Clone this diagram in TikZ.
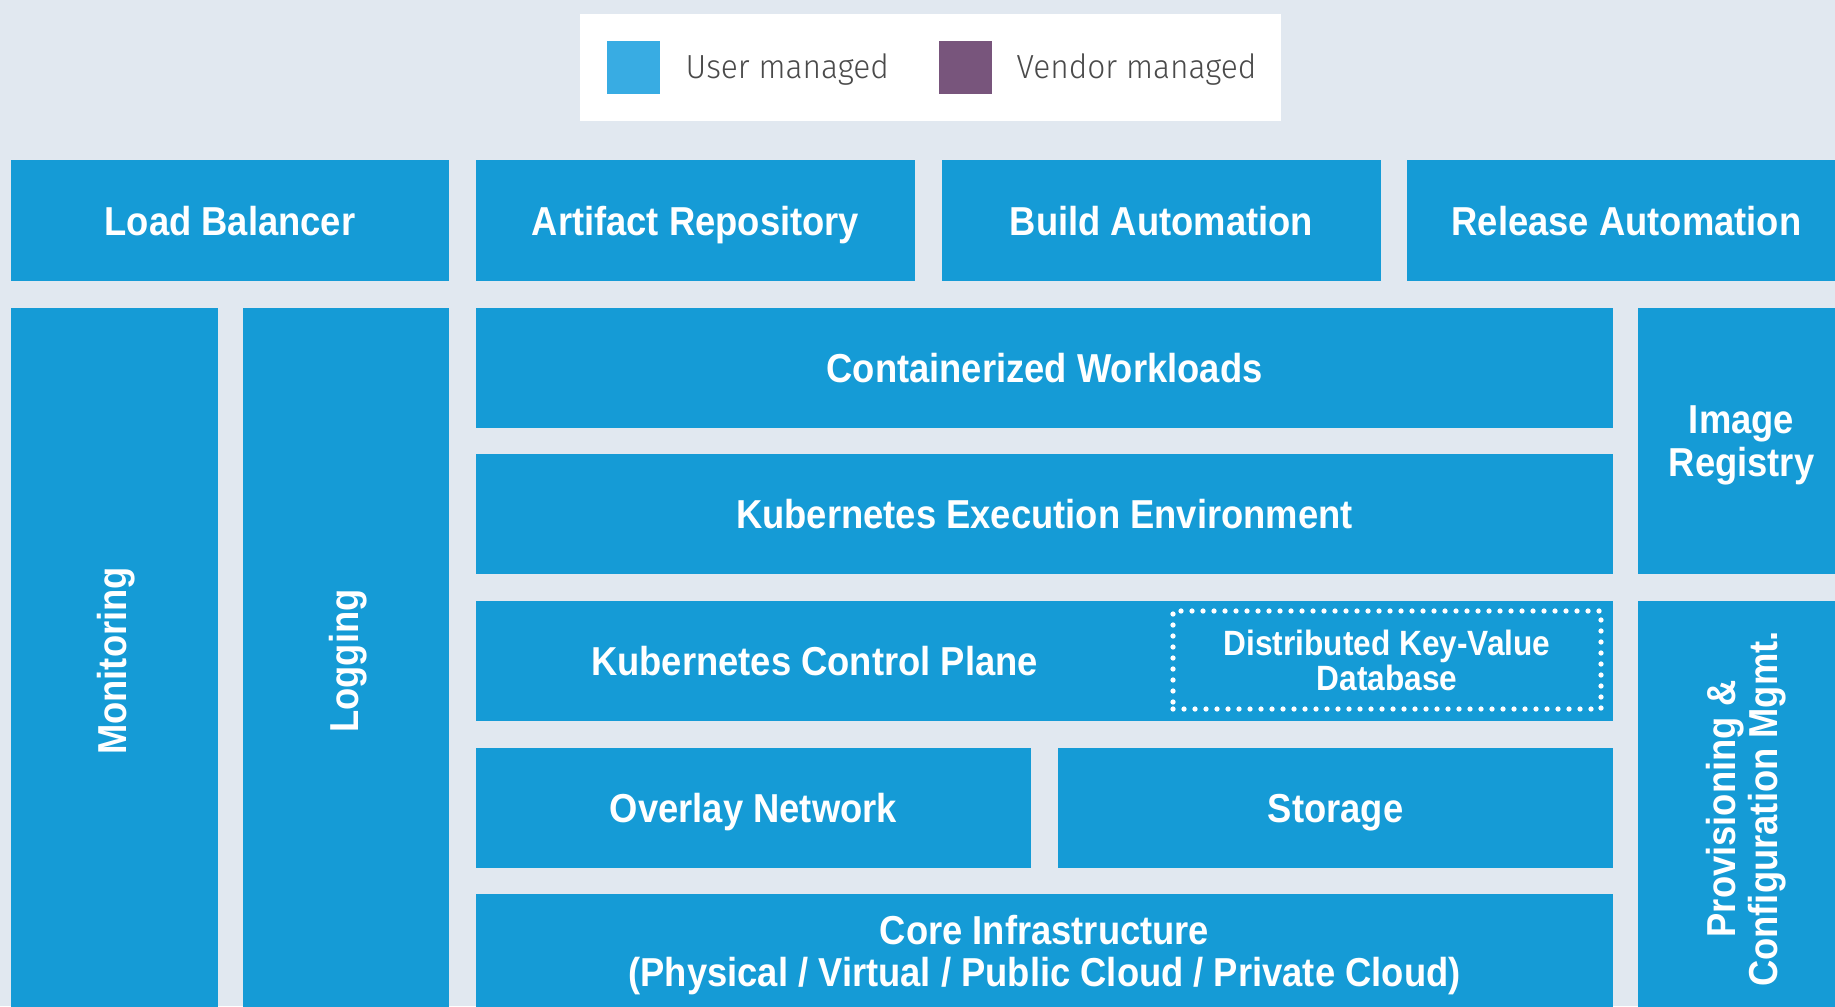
\documentclass[tikz,border=0pt]{standalone}
\usepackage{fontspec}
\usepackage{tikz}
\usetikzlibrary{calc}
\newfontfamily\blockfont{Liberation Sans}[FakeStretch=0.9]
\newfontfamily\legendfont{Fira Sans}[UprightFont=* Light, FakeStretch=0.95]
\definecolor{bggrey}{HTML}{E1E8F0}
\definecolor{kubeblue}{HTML}{159BD6}
\definecolor{userblue}{HTML}{38ACE3}
\definecolor{vendorpurple}{HTML}{78557C}
\definecolor{legendgrey}{HTML}{4A4A4A}

\begin{document}
\begin{tikzpicture}[x=0.1mm, y=-0.1mm,
    block/.style={fill=kubeblue, text=white, inner sep=0pt, align=center, text depth=0pt,
        font=\blockfont\bfseries\fontsize{11.5}{12}\selectfont},
    swatch/.style={minimum width=5.3mm, minimum height=5.3mm, inner sep=0pt},
    legendtxt/.style={text=legendgrey, inner sep=0pt, anchor=base west,
        font=\legendfont\fontsize{9.5}{11}\selectfont}]
    \useasboundingbox[fill=bggrey] (0,0) rectangle (1835,1006);
    % legend
    \node[fill=white, minimum width=70.1mm, minimum height=10.7mm, inner sep=0pt] (legend) at (930.5,67.5) {};
    \node[swatch, fill=userblue] (usersq) at (633,67.5) {};
    \node[legendtxt] (usertxt) at (685,78) {User managed};
    \node[swatch, fill=vendorpurple] (vendorsq) at (965,67.5) {};
    \node[legendtxt] (vendortxt) at (1016,78) {Vendor managed};
    % top row
    \node[block, minimum width=43.8mm, minimum height=12.1mm] (lb) at (230,220.5) {Load Balancer};
    \node[block, minimum width=43.9mm, minimum height=12.1mm] (artifact) at (695.5,220.5) {Artifact Repository};
    \node[block, minimum width=43.9mm, minimum height=12.1mm] (build) at (1161.5,220.5) {Build Automation};
    \node[block, minimum width=43.9mm, minimum height=12.1mm] (release) at (1626.5,220.5) {Release Automation};
    % side columns
    \node[block, rotate=90, text depth=0.5mm, minimum width=70.6mm, minimum height=20.7mm] (monitoring) at (114.5,661) {Monitoring};
    \node[block, rotate=90, text depth=0.5mm, minimum width=70.6mm, minimum height=20.6mm] (logging) at (346,661) {Logging};
    \node[block, minimum width=20.7mm, minimum height=26.6mm] (registry) at (1741.5,441) {Image\\Registry};
    \node[block, rotate=90, minimum width=41.6mm, minimum height=20.7mm] (provisioning) at (1741.5,809) {Provisioning \&\\Configuration Mgmt.};
    % stack
    \node[block, minimum width=113.7mm, minimum height=12mm] (workloads) at (1044.5,368) {Containerized Workloads};
    \node[block, minimum width=113.7mm, minimum height=12mm] (execenv) at (1044.5,514) {Kubernetes Execution Environment};
    \node[block, minimum width=113.7mm, minimum height=12mm] (ctrlplane) at (1044.5,661) {};
    \node[block, fill=none] (ctrllabel) at ($(ctrlplane.west)!0.298!(ctrlplane.east)$) {Kubernetes Control Plane};
    \node[block, fill=none, draw=white, line width=1.5pt, line cap=round, dash pattern=on 0pt off 1.1mm,
        minimum width=42.8mm, minimum height=9.8mm, font=\blockfont\bfseries\fontsize{10}{10}\selectfont] (kvdb) at (1387,660) {Distributed Key-Value\\Database};
    \node[block, minimum width=55.5mm, minimum height=12mm] (overlay) at (753.5,808) {Overlay Network};
    \node[block, minimum width=55.5mm, minimum height=12mm] (storage) at (1335.5,808) {Storage};
    \node[block, minimum width=113.7mm, minimum height=11.4mm] (core) at (1044.5,951) {Core Infrastructure\\(Physical / Virtual / Public Cloud / Private Cloud)};
%    \draw[red] (0,894) -- (1835,894);
\end{tikzpicture}
\end{document}
